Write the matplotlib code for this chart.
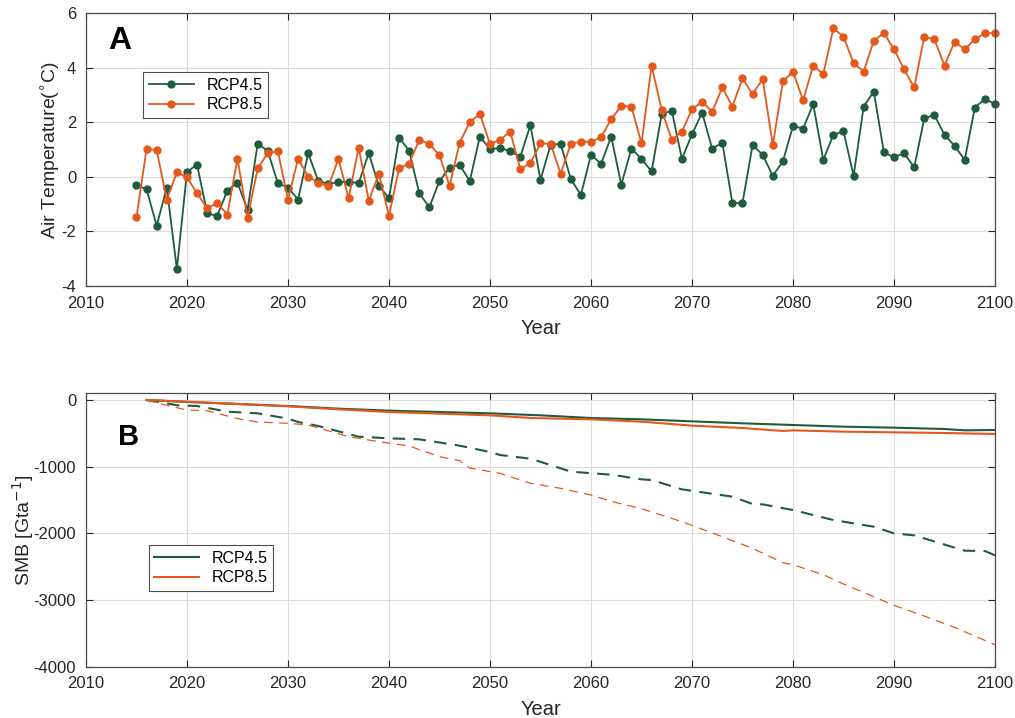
import matplotlib.pyplot as plt
import numpy as np

plt.rcParams['font.family'] = ['Liberation Sans', 'DejaVu Sans']
plt.rcParams['axes.unicode_minus'] = False

# air temperature anomalies, 2015-2100
years_t = np.arange(2015, 2101)
t_rcp45 = [-0.29, -0.46, -1.79, -0.39, -3.38, 0.18, 0.45, -1.34, -1.43, -0.50,
           -0.21, -1.21, 1.22, 0.95, -0.24, -0.39, -0.83, 0.87, -0.15, -0.25,
           -0.20, -0.17, -0.23, 0.87, -0.33, -0.78, 1.44, 0.96, -0.60, -1.11,
           -0.15, 0.34, 0.44, -0.15, 1.48, 1.01, 1.07, 0.94, 0.73, 1.90,
           -0.11, 1.18, 1.21, -0.08, -0.66, 0.81, 0.48, 1.48, -0.29, 1.04,
           0.66, 0.20, 2.30, 2.43, 0.66, 1.56, 2.36, 1.03, 1.26, -0.96,
           -0.96, 1.17, 0.81, 0.04, 0.57, 1.87, 1.77, 2.67, 0.62, 1.55,
           1.67, 0.04, 2.58, 3.13, 0.90, 0.72, 0.87, 0.35, 2.15, 2.27,
           1.54, 1.14, 0.62, 2.54, 2.86, 2.67]
t_rcp85 = [-1.48, 1.03, 0.98, -0.83, 0.17, -0.02, -0.60, -1.15, -0.96, -1.38,
           0.67, -1.51, 0.31, 0.87, 0.94, -0.83, 0.67, 0.01, -0.21, -0.35,
           0.67, -0.79, 1.07, -0.87, 0.11, -1.43, 0.32, 0.49, 1.36, 1.21,
           0.79, -0.33, 1.26, 2.01, 2.31, 1.21, 1.36, 1.66, 0.29, 0.50,
           1.23, 1.21, 0.12, 1.21, 1.29, 1.29, 1.45, 2.12, 2.60, 2.58,
           1.23, 4.08, 2.45, 1.36, 1.66, 2.48, 2.76, 2.39, 3.28, 2.58,
           3.61, 3.03, 3.59, 1.16, 3.50, 3.86, 2.81, 4.08, 3.77, 5.45,
           5.14, 4.18, 3.86, 5.00, 5.27, 4.68, 3.94, 3.28, 5.14, 5.04,
           4.08, 4.96, 4.68, 5.04, 5.27, 5.27]

# SMB, solid lines
yr_s45 = [2016, 2020, 2025, 2030, 2035, 2040, 2045, 2050, 2055, 2060,
          2065, 2070, 2075, 2080, 2085, 2090, 2095, 2097, 2100]
smb_s45 = [0, -30, -60, -90, -130, -160, -180, -200, -230, -270,
           -290, -320, -350, -375, -400, -415, -435, -455, -450]
yr_s85 = [2016, 2020, 2025, 2030, 2035, 2040, 2045, 2050, 2054, 2060,
          2065, 2070, 2075, 2079, 2080, 2085, 2090, 2095, 2100]
smb_s85 = [0, -25, -60, -95, -140, -180, -205, -230, -270, -290,
           -325, -385, -420, -465, -455, -475, -485, -495, -510]

# SMB, dashed lines
yr_d45 = [2016, 2018, 2019, 2021, 2024, 2027, 2030, 2031, 2033, 2037,
          2040, 2043, 2047, 2050, 2051, 2054, 2056, 2058, 2062, 2065,
          2066, 2069, 2074, 2076, 2077, 2080, 2084, 2088, 2090, 2092,
          2097, 2099, 2100]
smb_d45 = [0, -50, -80, -90, -175, -200, -280, -330, -390, -550,
           -575, -590, -685, -780, -825, -880, -975, -1075, -1120, -1190,
           -1200, -1340, -1450, -1560, -1565, -1650, -1800, -1900, -2000, -2030,
           -2260, -2265, -2330]
yr_d85 = [2016, 2018, 2020, 2022, 2025, 2027, 2030, 2032, 2036, 2039,
          2042, 2045, 2047, 2048, 2051, 2054, 2057, 2060, 2062, 2065,
          2068, 2070, 2073, 2076, 2079, 2080, 2083, 2085, 2088, 2090,
          2093, 2096, 2100]
smb_d85 = [0, -80, -150, -160, -280, -330, -350, -375, -550, -625,
           -690, -850, -910, -1020, -1100, -1250, -1325, -1425, -1520, -1630,
           -1775, -1880, -2050, -2225, -2440, -2470, -2620, -2760, -2950, -3080,
           -3240, -3410, -3670]

green = '#1f5c3e'
orange = '#e4581c'
axcol = '#262626'

fig = plt.figure(figsize=(10.15, 7.18), dpi=100)
ax1 = fig.add_axes([0.0847, 0.6017, 0.8956, 0.3798])
ax2 = fig.add_axes([0.0847, 0.0714, 0.8956, 0.3808])

for ax in (ax1, ax2):
    ax.set_xlim(2010, 2100)
    ax.set_xticks(np.arange(2010, 2101, 10))
    ax.grid(True, color='#dcdcdc', linewidth=0.8)
    ax.set_axisbelow(True)
    ax.tick_params(direction='in', top=True, right=True, labelsize=12,
                   colors=axcol, length=5, width=0.8, pad=7)
    for sp in ax.spines.values():
        sp.set_color('#4d4d4d')
        sp.set_linewidth(0.9)
    ax.set_xlabel('Year', fontsize=14.5, color=axcol, labelpad=6)

# panel A
ax1.plot(years_t, t_rcp45, '-o', color=green, lw=1.3, ms=5, label='RCP4.5', clip_on=False)
ax1.plot(years_t, t_rcp85, '-o', color=orange, lw=1.3, ms=5, label='RCP8.5', clip_on=False)
ax1.set_ylim(-4, 6)
ax1.set_yticks(np.arange(-4, 7, 2))
ax1.set_ylabel('Air Temperature($^{\\circ}$C)', fontsize=14, color=axcol, labelpad=-1)
ax1.text(0.024, 0.9, 'A', transform=ax1.transAxes, fontsize=23, fontweight='bold',
         va='center', ha='left')
leg1 = ax1.legend(loc='upper left', bbox_to_anchor=(0.063, 0.785), fontsize=11.5,
                  fancybox=False, framealpha=1, edgecolor='#4d4d4d',
                  handlelength=2.8, borderpad=0.35, labelspacing=0.3,
                  borderaxespad=0)
leg1.get_frame().set_linewidth(0.8)

# panel B
ax2.plot(yr_d45, smb_d45, '--', color=green, lw=1.5, dashes=(6, 4))
ax2.plot(yr_d85, smb_d85, '--', color=orange, lw=0.9, dashes=(7, 5))
ax2.plot(yr_s45, smb_s45, '-', color=green, lw=1.5, label='RCP4.5')
ax2.plot(yr_s85, smb_s85, '-', color=orange, lw=1.5, label='RCP8.5')
ax2.set_ylim(-4000, 100)
ax2.set_yticks(np.arange(-4000, 1, 1000))
ax2.set_ylabel('SMB [Gta$^{-1}$]', fontsize=14, color=axcol, labelpad=-2)
ax2.text(0.035, 0.84, 'B', transform=ax2.transAxes, fontsize=21, fontweight='bold',
         va='center', ha='left')
leg2 = ax2.legend(loc='upper left', bbox_to_anchor=(0.069, 0.445), fontsize=11.5,
                  fancybox=False, framealpha=1, edgecolor='#4d4d4d',
                  handlelength=2.8, borderpad=0.35, labelspacing=0.3,
                  borderaxespad=0)
leg2.get_frame().set_linewidth(0.8)

fig.savefig('out.png', dpi=100, facecolor='white')
